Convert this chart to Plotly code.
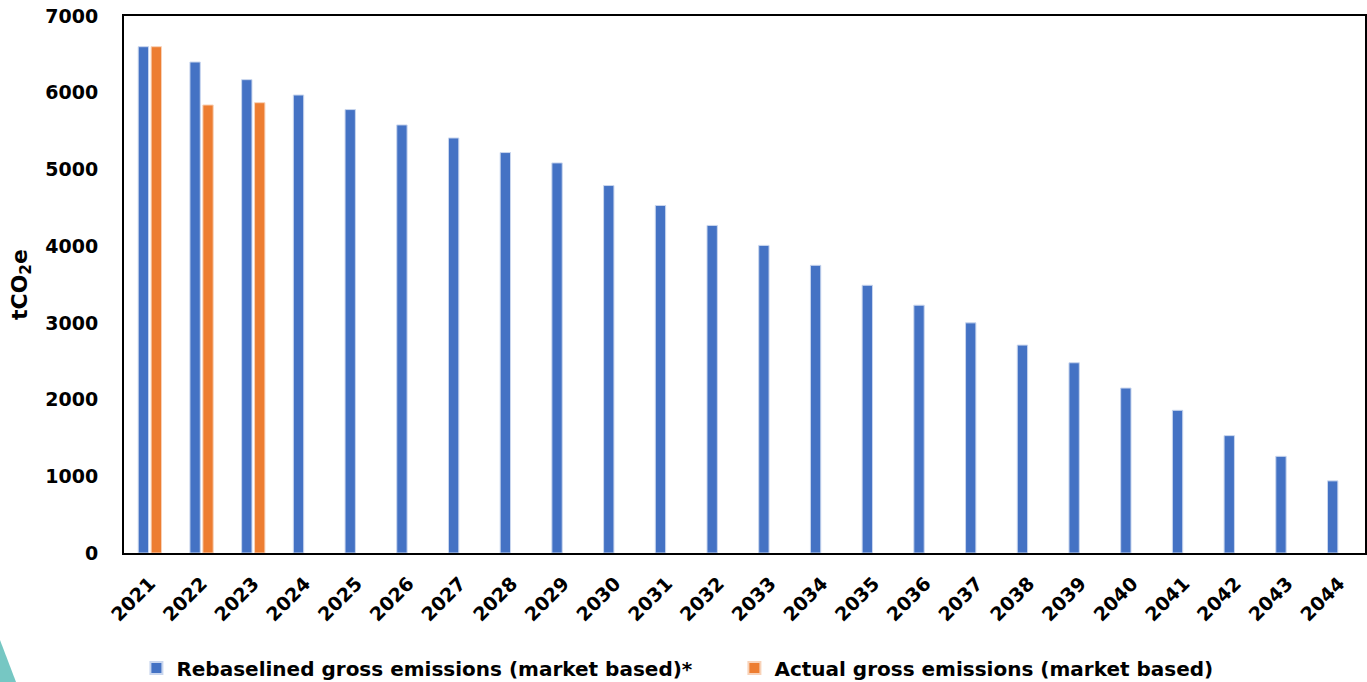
import plotly.graph_objects as go

years = [str(y) for y in range(2021, 2045)]
rebaselined = [6600, 6400, 6170, 5970, 5780, 5580, 5410, 5220, 5085, 4790,
               4530, 4270, 4010, 3750, 3490, 3230, 3000, 2710, 2480, 2150,
               1860, 1530, 1260, 940]
actual_years = ["2021", "2022", "2023"]
actual = [6600, 5840, 5870]

BLUE = "#4472C4"
ORANGE = "#ED7D31"
FONT = "DejaVu Sans"

fig = go.Figure()
fig.add_trace(go.Bar(
    x=years, y=rebaselined, name="Rebaselined gross emissions (market based)*",
    marker=dict(color=BLUE, line=dict(color="#c9d6ee", width=1)),
))
fig.add_trace(go.Bar(
    x=actual_years, y=actual, name="Actual gross emissions (market based)",
    marker=dict(color=ORANGE, line=dict(color="#f8d2b8", width=1)),
))

tick_font = dict(family=FONT, size=19, weight="bold", color="black")

fig.update_layout(
    width=1367, height=682,
    margin=dict(l=124, r=2, t=16, b=129, autoexpand=False),
    paper_bgcolor="white", plot_bgcolor="white",
    barmode="group", bargap=0.5, bargroupgap=0.2,
    font=dict(family=FONT, color="black"),
    showlegend=True,
    legend=dict(
        orientation="h", x=0.01, xanchor="left", y=-0.214, yanchor="middle",
        font=dict(family=FONT, size=20, weight="bold", color="black"),
        entrywidth=553, entrywidthmode="pixels",
        itemsizing="constant", traceorder="normal",
    ),
    xaxis=dict(
        type="category", categoryorder="array", categoryarray=years,
        showline=True, linecolor="black", linewidth=2, mirror=True,
        showgrid=False, ticks="", tickangle=-45, automargin=False,
        ticklabelstandoff=10,
        tickfont=tick_font,
    ),
    yaxis=dict(
        range=[0, 7000], dtick=1000, automargin=False,
        showline=True, linecolor="black", linewidth=2, mirror=True,
        showgrid=False, zeroline=False, ticks="",
        ticklabelstandoff=20,
        tickfont=tick_font,
        title=dict(text="tCO<sub>2</sub>e", standoff=12,
                   font=dict(family=FONT, size=22, weight="bold", color="black")),
    ),
)

# teal corner accent, bottom-left
pw, ph = 1367 - 124 - 2, 682 - 16 - 129
def px(x):
    return (x - 124) / pw
def py(y):
    return (553 - y) / ph
fig.add_shape(
    type="path", xref="paper", yref="paper", layer="below",
    path=f"M {px(0)} {py(640)} L {px(16)} {py(682)} L {px(0)} {py(682)} Z",
    fillcolor="#76C7C3", line=dict(width=0),
)

fig.write_html("out.html")
